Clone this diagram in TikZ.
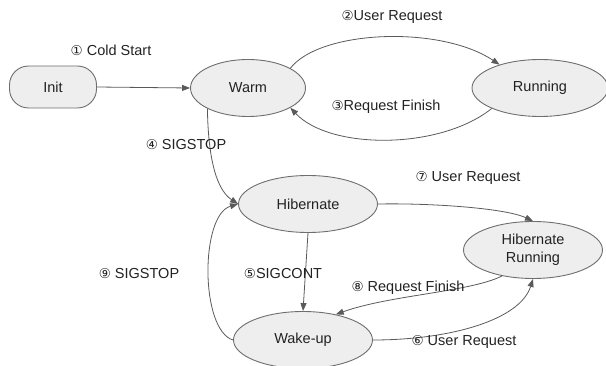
\documentclass[tikz,border=0pt]{standalone}
\usepackage{fontspec}
\setmainfont{Liberation Sans}
\newfontfamily\sym{DejaVu Sans}
\usetikzlibrary{shapes.geometric,arrows.meta}
\definecolor{nodefill}{HTML}{EEEEEE}
\definecolor{nodeline}{HTML}{6E6E6E}
\definecolor{edgeline}{HTML}{5A5A5A}
\definecolor{txt}{HTML}{222222}
\newcommand{\cn}[1]{{\sym\fontsize{13.5}{15}\selectfont #1}}
\tikzset{
  state/.style={ellipse, draw=nodeline, fill=nodefill, line width=0.9pt, inner sep=0pt, text=txt, align=center, font=\fontsize{14.5}{17}\selectfont},
  initbox/.style={rectangle, rounded corners=19pt, draw=nodeline, fill=nodefill, line width=0.9pt, inner sep=0pt, minimum width=87pt, minimum height=42pt, text=txt, font=\fontsize{14.5}{17}\selectfont},
  trans/.style={draw=edgeline, line width=0.8pt, -{Triangle[length=8pt,width=6pt]}},
  lbl/.style={text=txt, inner sep=0pt, font=\fontsize{14.5}{17}\selectfont}
}
\begin{document}
\begin{tikzpicture}[x=1pt,y=-1pt]
\useasboundingbox (0,0) rectangle (606,366);
\node[initbox] (init) at (53,87) {Init};
\node[state, minimum width=115pt, minimum height=57pt] (warm) at (248,88) {Warm};
\node[state, minimum width=136pt, minimum height=57pt] (run) at (540,88) {Running};
\node[state, minimum width=139pt, minimum height=57pt] (hib) at (308,204) {Hibernate};
\node[state, minimum width=139pt, minimum height=57pt] (hibrun) at (533,250) {Hibernate\\[1pt]Running};
\node[state, minimum width=139pt, minimum height=57pt] (wake) at (303,340) {Wake-up};

\draw[trans] (init.east) -- (warm.west);
\draw[trans] (warm.25) .. controls (320,30) and (440,25) .. (run.150);
\draw[trans] (run.203) .. controls (440,150) and (330,150) .. (warm.335);
\draw[trans] (warm.207) .. controls (208,150) and (214,188) .. (hib.west);
\draw[trans] (hib.east) .. controls (430,203) and (505,208) .. (hibrun.north);
\draw[trans] (hib.south) -- (wake.north);
\draw[trans] (wake.west) .. controls (200,330) and (200,215) .. (hib.west);
\draw[trans] (hibrun.220) .. controls (470,292) and (390,295) .. (wake.38);
\draw[trans] (wake.east) .. controls (450,340) and (520,320) .. (hibrun.south);

\node[lbl] (l1) at (111,50) {\cn{①} Cold Start};
\node[lbl] (l2) at (392,17) {\cn{②}User Request};
\node[lbl] (l3) at (386,107) {\cn{③}Request Finish};
\node[lbl] (l4) at (186,145) {\cn{④} SIGSTOP};
\node[lbl] (l7) at (468,178) {\cn{⑦} User Request};
\node[lbl] (l9) at (139,274) {\cn{⑨} SIGSTOP};
\node[lbl] (l5) at (283,274) {\cn{⑤}SIGCONT};
\node[lbl] (l8) at (408,288) {\cn{⑧} Request Finish};
\node[lbl] (l6) at (464,342) {\cn{⑥} User Request};
\end{tikzpicture}
\end{document}
